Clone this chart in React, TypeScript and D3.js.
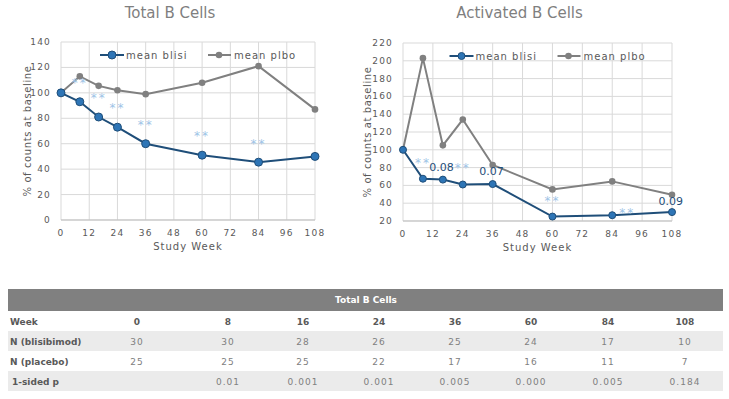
import React from 'react';
import * as d3 from 'd3';

const weeks = [0, 8, 16, 24, 36, 60, 84, 108];
const xTicks = [0, 12, 24, 36, 48, 60, 72, 84, 96, 108];

const totalBlisi = [100, 93, 81, 73, 60, 51, 45.5, 50];
const totalPlbo = [100, 113, 105.5, 102, 99, 108, 121, 87];
const totalYTicks = [0, 20, 40, 60, 80, 100, 120, 140];
const totalNotes = [
  { week: 8, value: 108, text: '**' },
  { week: 16, value: 96, text: '**' },
  { week: 24, value: 88, text: '**' },
  { week: 36, value: 75, text: '**' },
  { week: 60, value: 66, text: '**' },
  { week: 84, value: 60, text: '**' },
];

const actBlisi = [100, 67.5, 66.5, 61, 61.5, 25, 26.5, 30];
const actPlbo = [100, 203, 105, 134, 83, 55.5, 64.5, 49.5];
const actYTicks = [20, 40, 60, 80, 100, 120, 140, 160, 180, 200, 220];
const actNotes = [
  { week: 8, value: 85, text: '**' },
  { week: 15.5, value: 81, text: '0.08' },
  { week: 24, value: 79, text: '**' },
  { week: 35.5, value: 76, text: '0.07' },
  { week: 60, value: 43, text: '**' },
  { week: 90, value: 29, text: '**' },
  { week: 107.5, value: 43, text: '0.09' },
];

const tableWeeks = ['0', '8', '16', '24', '36', '60', '84', '108'];
const nBlisi = ['30', '30', '28', '26', '25', '24', '17', '10'];
const nPlacebo = ['25', '25', '25', '22', '17', '16', '11', '7'];
const pValues = ['', '0.01', '0.001', '0.001', '0.005', '0.000', '0.005', '0.184'];

const BLUE_LINE = '#1f4e79';
const BLUE_DOT = '#2e75b6';
const GRAY = '#808080';
const STAR = '#9dc3e6';
const FONT = 'DejaVu Sans, sans-serif';

interface Note { week: number; value: number; text: string; }

interface ChartProps {
  title: string;
  left: number;
  x0: number;
  x1: number;
  y0: number;
  y1: number;
  yTicks: number[];
  blisi: number[];
  plbo: number[];
  notes: Note[];
  legendY: number;
  dotR: number;
}

const Chart: React.FC<ChartProps> = ({ title, left, x0, x1, y0, y1, yTicks, blisi, plbo, notes, legendY, dotR }) => {
  const x = d3.scaleLinear().domain([0, 108]).range([x0, x1]);
  const y = d3.scaleLinear().domain(d3.extent(yTicks) as [number, number]).range([y0, y1]);
  const line = d3.line<number>().x((d, i) => x(weeks[i])).y(d => y(d));
  const cx = (x0 + x1) / 2;
  return (
    <g>
      <text x={cx - 18} y={18} textAnchor="middle" fontFamily={FONT} fontSize={15} fill="#7f7f7f">{title}</text>
      {xTicks.map(t => (
        <line key={'vx' + t} x1={x(t)} x2={x(t)} y1={y0} y2={y1} stroke="#d9d9d9" strokeWidth={1} />
      ))}
      {yTicks.map(t => (
        <line key={'hy' + t} x1={x0} x2={x1} y1={y(t)} y2={y(t)} stroke="#d9d9d9" strokeWidth={1} />
      ))}
      <line x1={x0} x2={x1} y1={y0} y2={y0} stroke="#bfbfbf" strokeWidth={1} />
      {yTicks.map(t => (
        <text key={'yl' + t} x={x0 - 10} y={y(t) + 3} textAnchor="end" fontFamily={FONT} fontSize={9} letterSpacing={1.2} fill="#595959">{t}</text>
      ))}
      {xTicks.map(t => (
        <text key={'xl' + t} x={x(t)} y={y0 + 16} textAnchor="middle" fontFamily={FONT} fontSize={9} letterSpacing={1.2} fill="#595959">{t}</text>
      ))}
      <text x={cx} y={y0 + 30} textAnchor="middle" fontFamily={FONT} fontSize={10} letterSpacing={1} fill="#595959">Study Week</text>
      <text transform={`translate(${left + 31},${(y0 + y1) / 2}) rotate(-90)`} textAnchor="middle" fontFamily={FONT} fontSize={10} letterSpacing={0.6} fill="#595959">% of counts at baseline</text>

      <path d={line(plbo) || ''} fill="none" stroke={GRAY} strokeWidth={2} />
      {plbo.map((v, i) => (
        <circle key={'pp' + i} cx={x(weeks[i])} cy={y(v)} r={3.3} fill={GRAY} />
      ))}
      <path d={line(blisi) || ''} fill="none" stroke={BLUE_LINE} strokeWidth={2} />
      {blisi.map((v, i) => (
        <circle key={'bp' + i} cx={x(weeks[i])} cy={y(v)} r={dotR} fill={BLUE_DOT} stroke={BLUE_LINE} strokeWidth={1} />
      ))}
      {notes.map((n, i) => (
        <text key={'n' + i} x={x(n.week)} y={y(n.value) + 4} textAnchor="middle" fontFamily={FONT}
          fontSize={n.text === '**' ? 12 : 11} letterSpacing={n.text === '**' ? 2 : 0}
          fill={n.text === '**' ? STAR : BLUE_LINE}>{n.text}</text>
      ))}

      <line x1={cx - 88} x2={cx - 64} y1={legendY} y2={legendY} stroke={BLUE_LINE} strokeWidth={2} />
      <circle cx={cx - 76} cy={legendY} r={dotR} fill={BLUE_DOT} stroke={BLUE_LINE} strokeWidth={1} />
      <text x={cx - 62} y={legendY + 4} fontFamily={FONT} fontSize={10} letterSpacing={1} fill="#595959">mean blisi</text>
      <line x1={cx + 20} x2={cx + 43} y1={legendY} y2={legendY} stroke={GRAY} strokeWidth={2} />
      <circle cx={cx + 31} cy={legendY} r={3.3} fill={GRAY} />
      <text x={cx + 46} y={legendY + 4} fontFamily={FONT} fontSize={10} letterSpacing={1} fill="#595959">mean plbo</text>
    </g>
  );
};

const colX = [137, 228, 303, 379, 455, 531, 608, 685];
const rowTop = [311, 331, 351, 371];
const rowH = 20;

const Table: React.FC = () => {
  const rows = [
    { label: 'Week', vals: tableWeeks, bold: true },
    { label: 'N (blisibimod)', vals: nBlisi, bold: false },
    { label: 'N (placebo)', vals: nPlacebo, bold: false },
    { label: '1-sided p', vals: pValues, bold: false },
  ];
  return (
    <g>
      <rect x={8} y={289} width={715} height={22} fill="#808080" />
      <text x={366} y={303} textAnchor="middle" fontFamily={FONT} fontSize={9} fontWeight="bold" fill="#ffffff">Total B Cells</text>
      {rows.map((r, ri) => (
        <g key={r.label}>
          <rect x={8} y={rowTop[ri]} width={715} height={rowH} fill={ri % 2 === 1 ? '#ebebeb' : '#ffffff'} />
          <text x={ri === 3 ? 12 : 10} y={rowTop[ri] + 14} fontFamily={FONT} fontSize={9} fontWeight="bold" fill="#595959">{r.label}</text>
          {r.vals.map((v, ci) => (
            <text key={ci} x={colX[ci]} y={rowTop[ri] + 14} textAnchor="middle" fontFamily={FONT} fontSize={9}
              fontWeight={r.bold ? 'bold' : 'normal'} letterSpacing={r.bold ? 0 : 1}
              fill={r.bold ? '#595959' : '#808080'}>{v}</text>
          ))}
        </g>
      ))}
    </g>
  );
};

export default function App() {
  return (
    <div style={{ position: 'absolute', left: 0, top: 0 }}>
      <svg width={729} height={399} style={{ display: 'block', background: '#ffffff' }}>
        <Chart title="Total B Cells" left={0} x0={61} x1={315} y0={220} y1={42} yTicks={totalYTicks}
          blisi={totalBlisi} plbo={totalPlbo} notes={totalNotes} legendY={55} dotR={4} />
        <Chart title="Activated B Cells" left={340} x0={403} x1={672} y0={221} y1={43} yTicks={actYTicks}
          blisi={actBlisi} plbo={actPlbo} notes={actNotes} legendY={56} dotR={3.5} />
        <Table />
      </svg>
    </div>
  );
}
